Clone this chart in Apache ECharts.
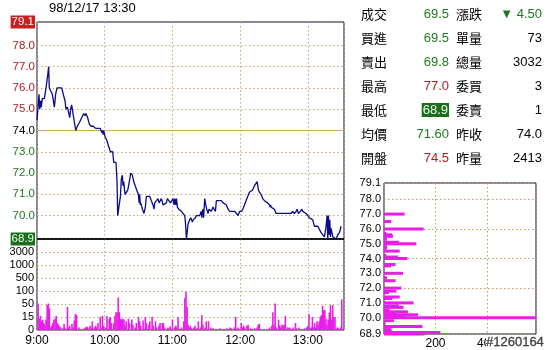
<!DOCTYPE html>
<html><head><meta charset="utf-8">
<script src="https://cdn.jsdelivr.net/npm/echarts@6/dist/echarts.min.js"></script>
<style>html,body{margin:0;padding:0;background:#fff}#c{width:550px;height:350px}</style>
</head><body><div id="c"></div>
<script>
// ---------- data ----------
const chartTitle = '98/12/17 13:30';
// [minutes after 9:00, price]
const priceLine = [
[0,74.5],[1.8,75.7],[2.4,75.0],[3.2,75.4],[3.8,75.1],[4.7,75.5],[6.5,75.5],[8.0,76.0],[9.5,76.6],[10.3,77.0],[10.9,76.0],[12.4,76.0],[13.6,75.7],[15.4,75.1],[16.5,75.7],[17.7,76.0],[21.9,76.0],[23.3,75.7],[24.8,75.4],[25.7,75.0],[26.9,75.1],[27.8,74.9],[29.0,74.6],[29.8,75.0],[30.7,75.2],[31.6,74.9],[33.1,74.4],[34.3,74.0],[35.7,74.2],[37.8,74.4],[39.6,74.6],[41.4,74.8],[42.5,74.7],[43.4,74.8],[44.9,74.6],[46.4,74.3],[47.9,74.2],[49.9,74.2],[52.0,74.1],[56.1,74.1],[57.3,73.9],[58.0,74.0],[58.6,73.8],[59.2,74.0],[60.3,73.7],[61.4,73.6],[62.6,73.4],[63.8,73.2],[65.0,73.0],[67.1,73.0],[68.0,72.5],[70.0,72.5],[70.9,71.6],[71.5,70.0],[73.0,70.0],[73.9,70.9],[74.7,71.7],[75.6,71.9],[76.2,71.4],[76.8,71.6],[78.0,71.0],[79.2,71.0],[80.4,71.2],[81.8,71.6],[83.0,72.0],[84.5,71.9],[85.7,71.6],[86.9,71.6],[88.3,71.2],[89.8,71.0],[90.5,70.6],[91.0,71.0],[91.5,70.5],
[91.9,70.6],[93.4,70.3],[94.8,70.1],[96.0,70.4],[96.9,70.9],[98.4,70.9],[99.9,70.9],[101.3,70.7],[102.8,70.5],[103.7,70.3],[104.3,70.6],[105.8,70.6],[107.2,70.8],[108.1,70.6],[109.0,70.6],[110.2,70.8],[111.7,70.5],[113.2,70.5],[114.6,70.6],[115.5,70.8],[117.0,70.8],[118.2,70.6],[119.1,70.6],[119.9,70.6],[120.6,70.8],[121.4,70.5],[122.2,70.8],[123.0,70.5],[123.6,70.8],[124.4,70.4],[125.6,70.3],[127.9,70.2],[129.4,70.2],[130.9,70.0],[131.5,69.7],[132.4,68.9],[133.2,69.3],[133.8,69.6],[135.3,69.8],[136.2,69.9],[137.7,69.7],[138.3,69.8],[139.7,69.8],[140.3,69.9],[141.2,70.0],[142.7,70.0],[144.2,70.0],[145.6,70.2],[146.0,69.9],[146.5,70.2],[147.1,70.3],[147.6,69.9],[148.6,70.8],[149.5,70.5],[150.4,70.3],[151.6,70.1],[152.4,70.3],[153.3,70.3],[154.5,70.2],[156.0,70.4],[156.9,70.3],[158.1,70.2],[158.9,70.7],[163.4,70.7],[164.9,70.6],[166.3,70.6],[167.8,70.5],[169.3,70.3],[170.8,70.2],[175.2,70.2],[176.7,70.1],[178.1,70.0],[179.6,70.2],[181.5,70.2],
[182.3,70.3],[183.8,70.5],[185.2,70.7],[186.7,70.9],[188.2,71.1],[189.7,71.1],[191.1,71.2],[192.6,71.4],[194.1,71.4],[195.0,71.6],[196.2,71.2],[197.1,71.1],[198.5,71.0],[200.0,70.8],[201.5,70.7],[203.0,70.7],[204.4,70.6],[205.9,70.5],[206.5,70.4],[207.0,70.5],[207.4,70.4],[208.9,70.4],[210.3,70.3],[211.8,70.1],[214.8,70.1],[217.7,70.1],[219.2,70.1],[222.2,70.1],[225.1,70.1],[226.6,70.2],[228.1,70.1],[229.6,70.2],[230.4,70.3],[231.6,70.1],[233.4,70.2],[234.6,70.3],[235.5,70.2],[236.9,70.2],[238.4,70.1],[239.9,70.0],[241.4,69.9],[242.8,69.9],[244.3,69.8],[245.8,69.5],[248.8,69.5],[250.2,69.5],[251.7,69.2],[253.2,69.2],[254.7,69.0],[256.1,69.5],[257.0,70.0],[257.6,68.9],[258.2,70.0],[258.8,69.1],[259.4,69.8],[260.0,69.0],[260.6,69.4],[262.1,69.0],[263.5,69.0],[265.0,68.9],[266.5,69.1],[268.0,69.2],[269.4,69.5]
];
// [minutes after 9:00, volume]
const volumeBars = [
[1,52],[2,13],[3,18],[4,10],[5,12],[6,8],[7,6],[8,12],[9,47],[10,52],[11,38],[12,3],[13,5],[14,8],[15,12],[16,13],[17,18],[18,8],[19,6],[20,4],[21,3],[23,2],[24,7],[25,2],[27,42],[28,3],[29,5],[31,7],[32,3],[33,11],[34,23],[35,20],[37,3],[40,1],[42,2],[43,3],[44,4],[45,3],[47,5],[48,3],[49,10],[51,3],[52,5],[53,3],[54,8],[56,15],[57,2],[58,18],[59,5],
[61,3],[62,18],[64,13],[65,15],[66,8],[68,8],[69,18],[70,28],[71,28],[72,75],[73,28],[74,13],[75,12],[76,13],[77,12],[78,6],[79,10],[81,13],[82,8],[84,12],[85,6],[87,3],[88,8],[90,15],[91,10],[92,5],[94,11],[96,15],[97,8],[99,6],[100,10],[102,16],[103,5],[105,10],[106,3],[108,5],[109,8],[111,8],[112,8],[113,3],[116,3],[117,2],[118,4],[120,12],
[122,3],[123,5],[124,3],[125,15],[128,3],[130,10],[131,72],[132,97],[133,42],[134,6],[135,3],[136,5],[137,2],[139,3],[140,5],[142,2],[143,10],[145,3],[146,20],[147,6],[149,3],[150,10],[152,10],[154,3],[156,2],[159,1],[162,2],[165,1],[168,2],[170,1],[171,3],[172,2],[175,3],[176,15],[178,3],
[181,8],[182,3],[183,5],[184,3],[186,5],[187,6],[189,2],[190,1],[193,2],[195,3],[196,6],[197,7],[206,3],[208,5],[209,28],[210,6],[211,52],[212,3],[214,12],[215,5],[216,3],[217,6],[218,5],[219,6],[220,18],[222,3],[223,2],[224,3],[226,1],[227,3],[229,8],[230,2],[232,3],[237,2],[239,3],
[240,5],[241,23],[242,2],[243,3],[244,15],[245,3],[246,8],[247,3],[248,10],[249,6],[250,10],[251,16],[252,20],[253,45],[254,33],[255,34],[256,13],[257,6],[258,12],[259,27],[260,47],[261,12],[262,47],[263,15],[264,15],[266,3],[267,2],[269,3],[270,68]
];
const timeTickLabels = ['9:00','10:00','11:00','12:00','13:00'];
const volTickValues = [0,15,50,100,500,1000,3000];
const priceTickValues = [79.1,78.0,77.0,76.0,75.0,74.0,73.0,72.0,71.0,70.0,68.9];
const prevClose = 74.0;
// price-volume distribution
const distPrices  = [77.0,76.5,76.0,75.7,75.6,75.5,75.3,75.1,75.0,74.8,74.7,74.5,74.2,74.1,74.0,73.6,73.5,73.0,72.7,72.5,72.0,71.8,71.7,71.4,71.3,71.0,70.8,70.7,70.5,70.4,70.3,70.2,70.1,70.0,69.8,69.6,69.4,69.2,69.1,69.0,68.9];
const distVolumes = [80,28,154,9,32,35,12,58,126,12,12,61,9,54,91,45,28,74,12,45,67,48,19,61,32,115,58,76,22,93,48,132,84,590,39,6,149,29,29,219,158];
const distTickValues = [79.1,78.0,77.0,76.0,75.0,74.0,73.0,72.0,71.0,70.0,68.9];
// quote table
const infoLabelsL = ['成交','買進','賣出','最高','最低','均價','開盤'];
const infoValuesL = ['69.5','69.5','69.8','77.0','68.9','71.60','74.5'];
const infoLabelsR = ['漲跌','單量','總量','委買','委賣','昨收','昨量'];
const infoValuesR = ['▼ 4.50','73','3032','3','1','74.0','2413'];
const stampText = '#1260164';

// ---------- styles ----------
const NARROW = "'Liberation Sans Narrow','Arial Narrow','Liberation Sans',Arial,sans-serif";
const SANS = "'Liberation Sans',Arial,sans-serif";
const CJK = "'Noto Sans CJK TC','Noto Sans CJK SC',sans-serif";
const GRID_C = '#c9a66b';
const RED = '#b01e1e', GREEN = '#1f7a1f';
const BORDER = '#0b0b3b';

function volToAxis(v){
  for (let i = 1; i < volTickValues.length; i++) {
    if (v <= volTickValues[i]) return (i-1) + (v - volTickValues[i-1])/(volTickValues[i]-volTickValues[i-1]);
  }
  return volTickValues.length - 1;
}
function priceColor(p){ return p > prevClose ? RED : (p < prevClose ? GREEN : '#000'); }
function dottedStyle(){ return { color: GRID_C, type: [1.5,2.5], width: 1 }; }

const priceMarks = priceTickValues.map(p => {
  const isTop = p === priceTickValues[0], isBot = p === priceTickValues[priceTickValues.length-1];
  const item = {
    yAxis: p,
    lineStyle: dottedStyle(),
    label: { formatter: p.toFixed(1), color: priceColor(p), fontFamily: NARROW, fontSize: 11.5, distance: 2 }
  };
  if (p === prevClose) item.lineStyle = { color: '#d9a560', type: 'solid', width: 1 };
  if (isTop) { item.lineStyle = { color: 'rgba(0,0,0,0)', width: 1 }; item.label.backgroundColor = '#c81e1e'; item.label.color = '#fff'; item.label.padding = [1,1,0,1]; }
  if (isBot) { item.lineStyle = { color: '#000', type: 'solid', width: 1.5 }; item.label.backgroundColor = '#1b6e1b'; item.label.color = '#e8ffe8'; item.label.padding = [1,1,0,1]; }
  return item;
});

const chart = echarts.init(document.getElementById('c'));

const graphics = [
  { type: 'text', left: 49, top: 2, style: { text: chartTitle, font: '13px ' + SANS, fill: '#000' } }
];
const rowY0 = 14, rowStep = 24;
infoLabelsL.forEach((t, i) => {
  const y = rowY0 + rowStep * i;
  graphics.push({ type: 'text', x: 361, y: y, style: { text: t, font: '13px ' + CJK, fill: '#000', align: 'left', verticalAlign: 'middle' } });
  const v = infoValuesL[i];
  const st = { text: v, font: '13px ' + NARROW, fill: priceColor(parseFloat(v)), align: 'right', verticalAlign: 'middle' };
  if (t === '最低') { st.fill = '#e8ffe8'; st.backgroundColor = '#1b6e1b'; st.padding = [1,1,0,1]; }
  graphics.push({ type: 'text', x: 449, y: y, style: st });
  graphics.push({ type: 'text', x: 456, y: y, style: { text: infoLabelsR[i], font: '13px ' + CJK, fill: '#000', align: 'left', verticalAlign: 'middle' } });
  graphics.push({ type: 'text', x: 542, y: y, style: { text: infoValuesR[i], font: '13px ' + NARROW, fill: i === 0 ? GREEN : '#000', align: 'right', verticalAlign: 'middle' } });
});
graphics.push({ type: 'text', x: 486, y: 342, z: 100, style: { text: stampText, font: '13px ' + SANS, fill: '#444', stroke: '#222', lineWidth: 0.3, backgroundColor: '#fff', align: 'left', verticalAlign: 'middle' } });

const distData = distVolumes.map((v, i) => [v, distPrices[i]]);

chart.setOption({
  animation: false,
  backgroundColor: '#fff',
  graphic: graphics,
  grid: [
    { left: 37, top: 22, width: 307, height: 217, show: true, borderColor: BORDER, borderWidth: 1 },
    { left: 37, top: 239, width: 307, height: 91, show: true, borderColor: BORDER, borderWidth: 1 },
    { left: 384, top: 183, width: 152, height: 152, show: true, borderColor: BORDER, borderWidth: 1 }
  ],
  xAxis: [
    { gridIndex: 0, type: 'value', min: 0, max: 272, interval: 60, axisLine: { show: false }, axisTick: { show: false }, axisLabel: { show: false }, splitLine: { show: true, lineStyle: dottedStyle() } },
    { gridIndex: 1, type: 'value', min: 0, max: 272, interval: 60, axisLine: { show: false }, axisTick: { show: false },
      axisLabel: { show: true, showMaxLabel: false, margin: 5, fontSize: 12, fontFamily: NARROW, color: '#000', formatter: v => timeTickLabels[Math.round(v/60)] || '' },
      splitLine: { show: true, lineStyle: dottedStyle() } },
    { gridIndex: 2, type: 'value', min: 0, max: 590, interval: 200, axisLine: { show: false }, axisTick: { show: false },
      axisLabel: { show: true, showMinLabel: false, showMaxLabel: false, margin: 4, fontSize: 12, fontFamily: NARROW, color: '#000' },
      splitLine: { show: true, lineStyle: { color: '#c29a58', type: [1.5,2.5], width: 1 } } }
  ],
  yAxis: [
    { gridIndex: 0, type: 'value', min: 68.9, max: 79.1, axisLine: { show: false }, axisTick: { show: false }, axisLabel: { show: false }, splitLine: { show: false } },
    { gridIndex: 1, type: 'value', min: 0, max: 7, interval: 1, axisLine: { show: false }, axisTick: { show: false },
      axisLabel: { show: true, showMaxLabel: false, margin: 3, fontSize: 11, fontFamily: NARROW, color: '#000', formatter: v => (volTickValues[v] !== undefined ? String(volTickValues[v]) : '') },
      splitLine: { show: true, lineStyle: dottedStyle() } },
    { gridIndex: 2, type: 'value', min: 68.9, max: 79.1, axisLine: { show: false }, axisTick: { show: false },
      axisLabel: { show: true, customValues: distTickValues, margin: 3, fontSize: 11, fontFamily: NARROW, color: '#000', formatter: v => v.toFixed(1) },
      splitLine: { show: true, lineStyle: { color: '#c29a58', type: [1.5,2.5], width: 1 } } }
  ],
  series: [
    { type: 'line', xAxisIndex: 0, yAxisIndex: 0, data: priceLine, showSymbol: false, symbol: 'none',
      lineStyle: { color: '#0a0a8c', width: 1.3 }, z: 5,
      markLine: { silent: true, symbol: 'none', animation: false, precision: 1, label: { position: 'start' }, data: priceMarks } },
    { type: 'bar', xAxisIndex: 1, yAxisIndex: 1, data: volumeBars.map(d => [d[0], volToAxis(d[1])]), barWidth: 1.6,
      itemStyle: { color: '#e81ee8' }, z: 5 },
    { type: 'custom', xAxisIndex: 2, yAxisIndex: 2, encode: { x: 0, y: 1 },
      data: distData, z: 5,
      renderItem: function (params, api) {
        const p0 = api.coord([0, api.value(1)]);
        const p1 = api.coord([api.value(0), api.value(1)]);
        return { type: 'rect', shape: { x: p0[0], y: p0[1] - 1.5, width: p1[0] - p0[0], height: 3 }, style: { fill: '#e81ee8' } };
      } }
  ]
});
</script></body></html>
